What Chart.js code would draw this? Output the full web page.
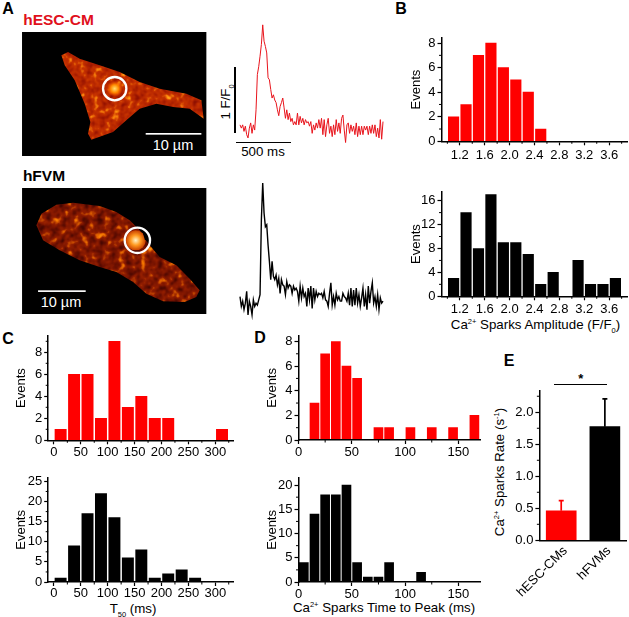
<!DOCTYPE html>
<html lang="en">
<head>
<meta charset="UTF-8">
<title>Ca2+ sparks</title>
<script src="https://cdn.jsdelivr.net/npm/chart.js"></script>
<style>
  body { margin: 0; background: #fff; }
  #page { position: relative; width: 629px; height: 617px; overflow: hidden; font-family: "Liberation Sans", Arial, sans-serif; color: #000; }
  #page canvas, #page svg { position: absolute; }
  .txt { position: absolute; white-space: nowrap; transform: translate(-50%, -50%); font-size: 13.3px; line-height: 1; }
  .txt sup, .txt sub { font-size: 7.5px; line-height: 0; }
  .letter { font-weight: bold; font-size: 16px; }
  .rule { position: absolute; background: #000; }
</style>
</head>
<body>
<div id="page">
  <svg style="left:22.3px;top:31.7px" width="184.4" height="124" viewBox="67 95 553 372">
    <defs>
      <filter id="hotA" x="0" y="0" width="100%" height="100%" color-interpolation-filters="sRGB">
        <feTurbulence type="fractalNoise" baseFrequency="0.05" numOctaves="2" seed="4"/>
        <feColorMatrix values="1 0 0 0 0 1 0 0 0 0 1 0 0 0 0 0 0 0 0 1"/>
        <feComponentTransfer>
          <feFuncR type="table" tableValues="0.5 0.6 0.7 0.78 1 1"/>
          <feFuncG type="table" tableValues="0.05 0.08 0.14 0.2 0.55 0.9"/>
          <feFuncB type="table" tableValues="0 0 0 0 0.05 0.3"/>
        </feComponentTransfer>
        <feComposite operator="in" in2="SourceAlpha"/>
      </filter>
      <radialGradient id="spotA"><stop offset="0" stop-color="#ffdf70"/><stop offset="0.5" stop-color="#ff8a00"/><stop offset="1" stop-color="#ff5000" stop-opacity="0"/></radialGradient>
    </defs>
    <rect x="67" y="95" width="553" height="372" fill="#000"/>
    <path filter="url(#hotA)" fill="#fff" d="M185 165 L205 155 L240 175 L300 195 L360 215 L420 245 L480 265 L560 280 L605 300 L612 355 L570 325 L520 320 L470 310 L420 325 L385 355 L340 395 L275 418 L265 400 L272 365 L255 310 L225 240 L195 195 Z"/>
    <circle cx="345" cy="265" r="24" fill="url(#spotA)"/>
    <circle cx="345" cy="265" r="35" fill="none" stroke="#fff" stroke-width="7"/>
    <rect x="438" y="398" width="167" height="5" fill="#fff"/>
  </svg>
  <svg style="left:22.3px;top:187.7px" width="184.4" height="126.3" viewBox="67 68 553 379">
    <defs>
      <filter id="hotB" x="0" y="0" width="100%" height="100%" color-interpolation-filters="sRGB">
        <feTurbulence type="fractalNoise" baseFrequency="0.045" numOctaves="2" seed="9"/>
        <feColorMatrix values="1 0 0 0 0 1 0 0 0 0 1 0 0 0 0 0 0 0 0 1"/>
        <feComponentTransfer>
          <feFuncR type="table" tableValues="0.22 0.3 0.45 0.58 0.95 1"/>
          <feFuncG type="table" tableValues="0 0.03 0.07 0.12 0.45 0.8"/>
          <feFuncB type="table" tableValues="0 0 0 0 0 0.2"/>
        </feComponentTransfer>
        <feComposite operator="in" in2="SourceAlpha"/>
      </filter>
      <radialGradient id="spotB"><stop offset="0" stop-color="#fff3c8"/><stop offset="0.5" stop-color="#ff9a20"/><stop offset="1" stop-color="#c84000"/></radialGradient>
    </defs>
    <rect x="67" y="68" width="553" height="379" fill="#000"/>
    <path filter="url(#hotB)" fill="#fff" d="M110 180 L125 145 L170 118 L220 112 L300 122 L350 140 L390 165 L420 195 L450 240 L480 275 L530 300 L570 340 L600 375 L590 395 L555 410 L490 408 L440 385 L400 350 L350 320 L300 305 L240 285 L180 255 L130 225 Z"/>
    <circle cx="408" cy="225" r="30" fill="url(#spotB)"/>
    <path d="M428 198 L445 205 L448 235 L435 222 Z" fill="#000"/>
    <circle cx="413" cy="225" r="38" fill="none" stroke="#fff" stroke-width="7"/>
    <rect x="115" y="375" width="143" height="5" fill="#fff"/>
  </svg>

  <div class="txt letter" style="left:8px;top:8.5px">A</div>
  <div class="txt letter" style="left:401px;top:8.5px">B</div>
  <div class="txt letter" style="left:8px;top:339px">C</div>
  <div class="txt letter" style="left:260px;top:338px">D</div>
  <div class="txt letter" style="left:509px;top:361px">E</div>
  <div class="txt" style="left:58.5px;top:19.5px;font-weight:bold;font-size:15.5px;color:#e0101c">hESC-CM</div>
  <div class="txt" style="left:44px;top:176px;font-weight:bold;font-size:15.5px">hFVM</div>
  <div class="txt" style="left:173px;top:145px;color:#fff;font-size:14.5px">10 µm</div>
  <div class="txt" style="left:61px;top:301.5px;color:#fff;font-size:14.5px">10 µm</div>

  <div class="rule" style="left:233.5px;top:67.3px;width:2px;height:65.4px"></div>
  <div class="rule" style="left:235.7px;top:142px;width:55px;height:1px"></div>
  <div class="txt" style="left:225.7px;top:101.7px;transform:translate(-50%,-50%) rotate(-90deg)">1 F/F<sub>0</sub></div>
  <div class="txt" style="left:263px;top:151.7px">500 ms</div>

  <div class="txt" style="left:535.5px;top:325px">Ca<sup>2+</sup> Sparks Amplitude (F/F<sub>0</sub>)</div>
  <div class="txt" style="left:133px;top:609px">T<sub>50</sub> (ms)</div>
  <div class="txt" style="left:384px;top:608px">Ca<sup>2+</sup> Sparks Time to Peak (ms)</div>
  <div class="txt" style="left:500px;top:472px;transform:translate(-50%,-50%) rotate(-90deg)">Ca<sup>2+</sup> Sparks Rate (s<sup>-1</sup>)</div>
  <div class="rule" style="left:554px;top:384px;width:53.3px;height:1px"></div>
  <div class="txt" style="left:580.7px;top:378px;font-weight:bold;font-size:13px">*</div>
</div>

<script>
// Amplitude histograms (panel B)
const ampBins = [1.1, 1.3, 1.5, 1.7, 1.9, 2.1, 2.3, 2.5, 2.7, 2.9, 3.1, 3.3, 3.5, 3.7];
const hescAmpCounts = [2, 3, 7, 8, 6, 5, 4, 1, 0, 0, 0, 0, 0, 0];
const hfvmAmpCounts = [3, 14, 8, 17, 9, 9, 7, 2, 4, 0, 6, 2, 2, 3];
const ampTicks = ['1.2', '1.6', '2.0', '2.4', '2.8', '3.2', '3.6'];

// T50 histograms (panel C)
const t50Bins = [12.5, 37.5, 62.5, 87.5, 112.5, 137.5, 162.5, 187.5, 212.5, 237.5, 262.5, 287.5, 312.5];
const hescT50Counts = [1, 6, 6, 2, 9, 3, 4, 2, 2, 0, 0, 0, 1];
const hfvmT50Counts = [1, 9, 17, 22, 16, 6, 8, 1, 2, 3, 1, 0, 0];
const t50Ticks = ['0', '50', '100', '150', '200', '250', '300'];

// Time to peak histograms (panel D)
const ttpBins = [5, 15, 25, 35, 45, 55, 65, 75, 85, 95, 105, 115, 125, 135, 145, 155, 165];
const hescTtpCounts = [0, 3, 7, 8, 6, 5, 0, 1, 1, 0, 1, 0, 1, 0, 1, 0, 2];
const hfvmTtpCounts = [4, 14, 18, 18, 20, 4, 1, 1, 4, 0, 0, 2, 0, 0, 0, 0, 0];
const ttpTicks = ['0', '50', '100', '150'];

// Spark rate (panel E)
const rateGroups = ['hESC-CMs', 'hFVMs'];
const rateMeans = [0.46, 1.775];
const rateErrorTops = [0.62, 2.21];
const rateTicks = ['0.0', '0.5', '1.0', '1.5', '2.0'];

// Line scans (panel A), F/F0 against ms
const traceTimes = [0, 12, 24, 36, 48, 60, 72, 84, 96, 108, 120, 132, 144, 156, 168, 180, 192, 204, 216, 228, 240, 252, 264, 276, 288, 300, 312, 324, 336, 348, 360, 372, 384, 396, 408, 420, 432, 444, 456, 468, 480, 492, 504, 516, 528, 540, 552, 564, 576, 588, 600, 612, 624, 636, 648, 660, 672, 684, 696, 708, 720, 732, 744, 756, 768, 780, 792, 804, 816, 828, 840, 852, 864, 876, 888, 900, 912, 924, 936, 948, 960, 972, 984, 996, 1008, 1020, 1032, 1044, 1056, 1068, 1080, 1092, 1104, 1116, 1128, 1140, 1152, 1164, 1176, 1188, 1200, 1212, 1224, 1236, 1248, 1260, 1272, 1284];
const hescTrace = [1.05, 1.00, 1.05, 0.95, 1.03, 0.90, 0.85, 1.00, 1.08, 0.92, 1.05, 0.97, 1.28, 1.82, 1.94, 2.10, 2.28, 2.58, 2.33, 2.25, 2.15, 1.77, 1.74, 1.59, 1.46, 1.51, 1.43, 1.39, 1.28, 1.19, 1.33, 1.39, 1.46, 1.31, 1.15, 1.28, 1.13, 1.23, 1.10, 1.15, 1.05, 1.10, 1.05, 1.23, 1.05, 1.18, 1.08, 1.15, 1.05, 1.13, 1.08, 1.10, 1.03, 1.10, 0.92, 1.05, 0.97, 1.08, 1.00, 1.13, 1.00, 1.15, 0.90, 1.13, 0.87, 1.05, 1.15, 0.92, 1.03, 0.87, 1.05, 0.90, 1.13, 0.95, 1.08, 0.92, 1.15, 1.20, 0.97, 0.78, 1.05, 1.08, 0.92, 1.05, 0.95, 1.03, 0.90, 1.08, 0.87, 1.03, 0.90, 1.03, 0.90, 1.03, 0.97, 1.03, 0.90, 1.03, 0.92, 1.05, 0.92, 1.05, 0.87, 1.00, 0.85, 1.13, 0.83, 1.10];
const hfvmTrace = [1.10, 0.95, 1.03, 0.90, 1.00, 1.18, 0.82, 1.03, 0.95, 0.82, 1.05, 0.95, 1.00, 0.97, 1.05, 1.13, 2.28, 2.84, 2.38, 2.17, 2.20, 1.89, 1.64, 1.36, 1.64, 1.41, 1.36, 1.43, 1.28, 1.38, 1.15, 1.36, 1.28, 1.26, 1.13, 1.33, 1.23, 1.28, 1.26, 1.15, 1.26, 1.20, 1.23, 1.18, 1.03, 1.26, 1.08, 1.23, 1.10, 1.15, 0.95, 1.23, 1.05, 1.26, 0.92, 1.23, 1.05, 1.18, 1.10, 1.15, 1.13, 1.15, 1.08, 1.18, 1.05, 1.03, 0.95, 1.15, 1.31, 0.97, 1.10, 0.97, 1.15, 1.05, 1.10, 1.03, 1.03, 1.15, 1.10, 1.08, 1.03, 1.15, 0.97, 1.23, 0.95, 1.20, 0.97, 1.23, 1.00, 1.13, 0.95, 1.08, 1.23, 0.95, 1.13, 0.90, 1.26, 1.00, 1.18, 1.31, 1.00, 1.10, 0.95, 1.13, 0.90, 1.08, 1.00, 1.03];

const RED = '#ff0000';
const BLACK = '#000000';
const tickFont = { family: '"Liberation Sans", Arial, sans-serif', size: 13 };
const titleFont = { family: '"Liberation Sans", Arial, sans-serif', size: 13 };
const page = document.getElementById('page');

function addCanvas(left, top, width, height) {
  const c = document.createElement('canvas');
  c.width = width;
  c.height = height;
  c.style.left = left + 'px';
  c.style.top = top + 'px';
  c.style.width = width + 'px';
  c.style.height = height + 'px';
  page.appendChild(c);
  return c;
}

// Small unlabelled ticks half way between the labelled ones
const minorTicks = {
  id: 'minorTicks',
  afterDraw(chart) {
    const ctx = chart.ctx;
    ctx.save();
    ctx.strokeStyle = BLACK;
    ctx.lineWidth = 1;
    Object.values(chart.scales).forEach(scale => {
      if (scale.type !== 'linear' || scale.ticks.length < 2) return;
      const step = scale.ticks[1].value - scale.ticks[0].value;
      for (let v = scale.ticks[0].value - step / 2; v < scale.max; v += step) {
        if (v < scale.min) continue;
        const p = scale.getPixelForValue(v);
        ctx.beginPath();
        if (scale.isHorizontal()) {
          ctx.moveTo(p, scale.top);
          ctx.lineTo(p, scale.top + 2.5);
        } else {
          ctx.moveTo(scale.right, p);
          ctx.lineTo(scale.right - 2.5, p);
        }
        ctx.stroke();
      }
    });
    ctx.restore();
  }
};

function tickList(labels) {
  return scale => { scale.ticks = labels.map(l => ({ value: Number(l) })); };
}

function axisStyle(labels, padding) {
  return {
    offset: false,
    border: { color: BLACK, width: 1.5, z: 1 },
    grid: { offset: false, drawOnChartArea: false, color: BLACK, tickColor: BLACK, tickLength: 4, tickWidth: 1.2 },
    ticks: { color: BLACK, font: tickFont, padding: padding, autoSkip: false, maxRotation: 0, minRotation: 0, callback: (v, i) => labels[i] },
    afterBuildTicks: tickList(labels)
  };
}

function histogram(o) {
  const left = o.titleX - 7.5;
  const top = o.axisTop - 4;
  const width = Math.round(o.axisRight - left + 6);
  const height = Math.round(o.baseY - top + 24);
  const canvas = addCanvas(left, top, width, height);
  new Chart(canvas, {
    type: 'bar',
    data: {
      datasets: [{
        data: o.bins.map((x, i) => ({ x: x, y: o.counts[i] })),
        backgroundColor: o.color,
        barThickness: o.barWidth
      }]
    },
    options: {
      responsive: false,
      animation: false,
      layout: { padding: { top: 4, right: width - (o.axisRight - left), left: 0, bottom: 0 } },
      plugins: { legend: { display: false }, tooltip: { enabled: false } },
      scales: {
        x: Object.assign(axisStyle(o.xTicks, o.xPad), {
          type: 'linear', min: o.xMin, max: o.xMax,
          afterFit: s => { s.height = height - (o.baseY - top); }
        }),
        y: Object.assign(axisStyle(o.yTicks, 2), {
          type: 'linear', min: 0, max: o.yMax,
          title: { display: true, text: 'Events', color: BLACK, font: titleFont, padding: 0 },
          afterFit: s => { s.width = o.axisX - left; }
        })
      }
    },
    plugins: [minorTicks]
  });
}

histogram({ bins: ampBins, counts: hescAmpCounts, color: RED, barWidth: 10.5, xTicks: ampTicks, yTicks: ['0', '2', '4', '6', '8'],
  titleX: 416, axisX: 441, axisRight: 627, axisTop: 32, baseY: 141.3, xMin: 0.906, xMax: 3.894, yMax: 8.43, xPad: 2 });
histogram({ bins: ampBins, counts: hfvmAmpCounts, color: BLACK, barWidth: 10.5, xTicks: ampTicks, yTicks: ['0', '4', '8', '12', '16'],
  titleX: 416, axisX: 441, axisRight: 627, axisTop: 186, baseY: 296.3, xMin: 0.906, xMax: 3.894, yMax: 17.48, xPad: 1 });
histogram({ bins: t50Bins, counts: hescT50Counts, color: RED, barWidth: 11.3, xTicks: t50Ticks, yTicks: ['0', '2', '4', '6', '8'],
  titleX: 21, axisX: 47.7, axisRight: 233.3, axisTop: 330, baseY: 440.3, xMin: -10.6, xMax: 334.4, yMax: 9.5, xPad: 0 });
histogram({ bins: t50Bins, counts: hfvmT50Counts, color: BLACK, barWidth: 11.3, xTicks: t50Ticks, yTicks: ['0', '5', '10', '15', '20', '25'],
  titleX: 21, axisX: 47.7, axisRight: 233.3, axisTop: 471.7, baseY: 581.7, xMin: -10.6, xMax: 334.4, yMax: 25.9, xPad: 0 });
histogram({ bins: ttpBins, counts: hescTtpCounts, color: RED, barWidth: 9, xTicks: ttpTicks, yTicks: ['0', '2', '4', '6', '8'],
  titleX: 272.7, axisX: 298.7, axisRight: 481, axisTop: 330, baseY: 440, xMin: 0, xMax: 171, yMax: 8.46, xPad: 1 });
histogram({ bins: ttpBins, counts: hfvmTtpCounts, color: BLACK, barWidth: 9, xTicks: ttpTicks, yTicks: ['0', '5', '10', '15', '20'],
  titleX: 272.7, axisX: 298.7, axisRight: 481, axisTop: 471.7, baseY: 581.7, xMin: 0, xMax: 171, yMax: 21.5, xPad: 1 });

// Panel E, bars with one sided error whiskers
const errorWhiskers = {
  id: 'errorWhiskers',
  beforeDatasetsDraw(chart) {
    const { ctx, scales: { x, y } } = chart;
    ctx.save();
    ctx.lineWidth = 1.7;
    rateErrorTops.forEach((top, i) => {
      const px = x.getPixelForValue(i);
      ctx.strokeStyle = i === 0 ? RED : BLACK;
      ctx.beginPath();
      ctx.moveTo(px, y.getPixelForValue(rateMeans[i]));
      ctx.lineTo(px, y.getPixelForValue(top));
      ctx.moveTo(px - 2.5, y.getPixelForValue(top));
      ctx.lineTo(px + 2.5, y.getPixelForValue(top));
      ctx.stroke();
    });
    ctx.restore();
  }
};

{
  const left = 505, top = 381, width = 124, height = 225;
  const yAxis = axisStyle(rateTicks, 2);
  new Chart(addCanvas(left, top, width, height), {
    type: 'bar',
    data: {
      labels: rateGroups,
      datasets: [{ data: rateMeans, backgroundColor: [RED, BLACK], barThickness: 30 }]
    },
    options: {
      responsive: false,
      animation: false,
      layout: { padding: { top: 4, right: width - (626.7 - left), left: 0, bottom: 0 } },
      plugins: { legend: { display: false }, tooltip: { enabled: false } },
      scales: {
        x: {
          type: 'category',
          border: { color: BLACK, width: 1.5, z: 1 },
          grid: { drawOnChartArea: false, drawTicks: false },
          ticks: { color: BLACK, font: tickFont, padding: 3, autoSkip: false, minRotation: 45, maxRotation: 45, labelOffset: 4 },
          afterFit: s => { s.height = top + height - 540.3; }
        },
        y: Object.assign(yAxis, {
          type: 'linear', min: 0, max: 2.335,
          afterFit: s => { s.width = 534 - left; }
        })
      }
    },
    plugins: [minorTicks, errorWhiskers]
  });
}

// Panel A traces, axes hidden, scale bars are in the page
function trace(values, color, lineWidth, left, top, right, bottom, yMin, yMax) {
  const pad = 3;
  const canvas = addCanvas(left - pad, top - pad, Math.round(right - left + 2 * pad), Math.round(bottom - top + 2 * pad));
  new Chart(canvas, {
    type: 'line',
    data: {
      datasets: [{
        data: traceTimes.map((t, i) => ({ x: t, y: values[i] })),
        borderColor: color,
        borderWidth: lineWidth,
        pointRadius: 0,
        tension: 0,
        clip: false
      }]
    },
    options: {
      responsive: false,
      animation: false,
      layout: { padding: pad },
      plugins: { legend: { display: false }, tooltip: { enabled: false } },
      scales: {
        x: { type: 'linear', display: false, min: 0, max: 1284 },
        y: { type: 'linear', display: false, min: yMin, max: yMax }
      }
    }
  });
}

trace(hescTrace, '#e8141c', 1, 240, 17.3, 382.7, 151.2, 0.65, 2.7);
trace(hfvmTrace, BLACK, 1.4, 240, 179.2, 382.7, 326.2, 0.65, 2.9);
</script>
</body>
</html>
